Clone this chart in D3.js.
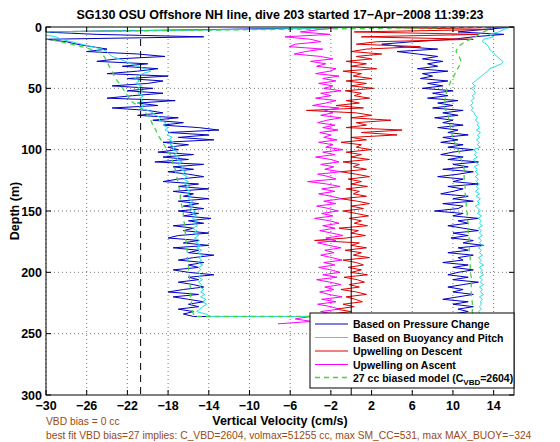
<!DOCTYPE html>
<html><head><meta charset="utf-8">
<script src="https://cdn.jsdelivr.net/npm/d3@7"></script>
<style>body{margin:0;background:#fff}svg{display:block}text{font-family:"Liberation Sans",Arial,Helvetica,sans-serif}</style>
</head><body><svg id="c" width="560" height="442"></svg>
<script>
// ---------- data ----------
const title = "SG130 OSU Offshore NH line, dive 203 started 17\u2212Apr\u22122008 11:39:23";
const xTicks = [-30,-26,-22,-18,-14,-10,-6,-2,2,6,10,14];
const yTicks = [0,50,100,150,200,250,300];
const depthGrid = [0,2,4,6,8,10,12,14,16,18,20,22,24,26,28,30,32,34,36,38,40,42,44,46,48,50,52,54,56,58,60,62,64,66,68,70,72,74,76,78,80,82,84,86,88,90,92,94,96,98,100,102,104,106,108,110,112,114,116,118,120,122,124,126,128,130,132,134,136,138,140,142,144,146,148,150,152,154,156,158,160,162,164,166,168,170,172,174,176,178,180,182,184,186,188,190,192,194,196,198,200,202,204,206,208,210,212,214,216,218,220,222,224,226,228,230,232,234,236];
const depthCoarse = [0,4,8,12,16,20,24,28,32,36,40,44,48,52,56,60,64,68,72,76,80,84,88,92,96,100,104,108,112,116,120,124,128,132,136,140,144,148,152,156,160,164,168,172,176,180,184,188,192,196,200,204,208,212,216,220,224,228,232,236];
const depthMagentaExtra = [238,240,242];

// Based on Pressure Change (descent / ascent), on depthGrid
const pressureDescent = [2,-13,-30.5,-25,-14.5,-30,-28,-27,-25.5,-24,-26,-21,-18.3,-23,-25,-20,-22.5,-19,-21,-24,-18,-22,-18.5,-20,-23.5,-19.5,-22,-18.5,-21.5,-24,-17.3,-21,-19,-23.5,-20,-18.5,-21,-17,-19.5,-16.5,-18.5,-15,-13,-18,-14,-17,-13.5,-18.5,-16,-18,-17,-19,-15.5,-18.5,-16,-19.3,-14.5,-17.5,-15.5,-18,-16,-14.5,-17,-18.5,-15,-17,-14,-17.5,-15.5,-16.5,-14,-17,-15,-16.5,-14.5,-17,-15,-16.5,-13.8,-16,-14.5,-17.5,-15.5,-16.5,-14,-17,-18,-15,-16.5,-14,-17.5,-15,-16,-13.5,-15.5,-17,-14.5,-16,-15,-17.5,-16,-13.5,-16,-15,-17,-15.5,-14.5,-16.5,-18,-15,-17.5,-16,-14.5,-16,-15,-17,-15.5,-16.5,-15.5];
const pressureAscent = [16,13,10.5,15,12,10,6,3,5,8.5,4.5,6.5,8.5,7,9,7.5,8.5,6.5,9.5,7,8,6.8,9.5,7.5,9,7,10,8,9.5,7.5,10.5,8.5,10,8,11,9,10.5,8.2,10,9,11,8.5,10.5,9.5,11.5,9,10.5,8.8,11,9.5,12,10,8.8,11,9.5,12.5,10,11.5,9,12,10.5,8.5,11,10,12.5,9.5,11,10,8.8,11.5,10,12,9,11,10.5,8.2,11,10,12.5,10.5,11.5,9.5,11,12.5,10,11.5,9.8,12,11,13,10.5,11.5,9.5,12,10.5,11,9,11.5,10,12,10.5,9.5,11.5,10,12.5,11,9.5,11,10,12,10.5,9,11.5,10,12,10.5,11.5,10,11];
// Based on Buoyancy and Pitch
const buoyDescent = [3,-10,-30.5,-30.5,-29,-28.5,-27.5,-26.5,-25.5,-24.5,-24,-23.8,-23.5,-22.8,-22.2,-21.6,-21,-20.3,-19.7,-20.5,-21,-21.3,-20.8,-21.2,-20.6,-21,-20.5,-21,-20.4,-20.8,-20.5,-21,-20.4,-20.7,-20,-19.5,-19.2,-18.7,-18.9,-18.2,-18.5,-18,-18.3,-17.8,-18.1,-17.6,-17.9,-17.4,-17.8,-17.3,-17.6,-17,-17.4,-16.9,-17.2,-16.6,-17,-16.5,-16.8,-16.3,-16.6,-16.1,-16.5,-16,-16.4,-15.9,-16.3,-15.8,-16.1,-15.7,-16,-15.6,-15.9,-15.5,-15.8,-15.3,-15.7,-15.2,-15.6,-15.1,-15.5,-15.1,-15.6,-15.2,-15.5,-15,-15.4,-14.9,-15.3,-14.8,-15.2,-14.7,-15.1,-14.6,-15,-14.7,-15.1,-14.6,-15,-14.8,-15.1,-14.7,-15,-14.6,-15,-14.7,-14.9,-14.5,-14.8,-14.4,-14.8,-14.3,-14.6,-14.2,-14.6,-14.9,-15.2,-14.3,-13.8];
const buoyAscent = [15.7,15,14.5,13.5,14,13,12.9,13.3,13.5,13.6,13.8,14.1,14.3,14.6,14.9,14.8,14.2,13.6,13.4,13.1,12.8,12.5,12.2,11.9,12.2,11.8,12.1,12.2,11.9,12.1,11.8,12,11.7,12,11.8,12.1,12.2,12.4,12.2,12.5,12.4,12.6,12.3,12.7,12.4,12.6,12.3,12.6,12.4,12.7,12.0,12.3,12.1,12.4,12.0,12.2,12.5,12.1,12.4,12.2,12.5,12.2,12.5,12.3,12.6,12.3,12.5,12.2,12.6,12.3,12.7,12.4,12.6,12.2,12.5,12.7,12.4,12.8,12.5,12.8,12.6,12.9,12.5,12.8,12.6,12.9,12.5,12.8,12.6,12.9,12.5,12.8,12.6,12.9,12.5,12.8,12.6,13.0,12.6,12.9,12.7,13.0,12.6,12.9,12.7,13.0,12.6,12.9,12.7,13.0,12.6,12.9,12.7,12.8,12.6,12.8,12.5,12.7,12.6];
// Upwelling on Descent (depthGrid)
const upDescent = [0.5,14,0.3,12.5,1,12,2.5,0.5,6.8,1.5,0,3,0.5,2,-0.5,1.5,0,2.5,-0.8,1,0.2,2,-0.5,1.5,0,2.2,-0.6,1,0.3,1.8,-0.5,0.8,-1.5,1.2,-4.4,0.5,2,0,3.9,0.5,1.5,-0.5,5,1,4.5,0,1.5,-1,1,0.5,2,-0.5,1,0,1.8,-0.8,0.8,0.2,1.5,-1,0.5,1.8,-0.3,1,0,1.6,-0.5,0.8,0.2,1.5,-1,0.6,1.8,0,1.2,-0.8,0.5,1.7,-0.2,1,0.3,1.6,-1.2,0.7,0,1.4,-0.5,-3.6,0.8,0,1.5,-0.6,1,0.2,1.8,-0.8,0.5,1.2,-0.3,1,0,1.6,-0.7,0.6,1.3,-0.2,0.8,-1,0.5,1.5,-0.5,0.4,1.1,-0.8,0.3,-1.5,0,-2,-1];
// Upwelling on Ascent (depthGrid + extra)
const upAscent = [-1,-3,-5,-2.1,-6.5,-4,-3,-5.5,-6.1,-2.8,-4.5,-5.6,-3,-1.8,-4,-2.5,-3.4,-1.5,-2.1,-3.5,-1.2,-2.8,-1.5,-3.2,-1.8,-2.7,-1,-3,-2,-3.5,-1.5,-2.5,-3.8,-1.2,-2.6,-1.8,-3,-1,-2.4,-3.3,-1.6,-2.8,-1.3,-3.1,-2,-2.7,-1.4,-3.2,-1.8,-2.5,-0.8,-2.8,-1.6,-3.5,-2,-1.2,-3,-1.7,-2.6,-1,-3.3,-2.2,-1.5,-4.3,-2.4,-1.1,-2.9,-1.6,-3.2,-2,-0.9,-2.7,-1.5,-3.4,-2.2,-1.3,-2.9,-1.8,-3.6,-2.1,-1.2,-2.8,-1.6,-3.1,-1.9,-0.8,-2.5,-1.5,-3.3,-2.2,-1,-2.6,-1.7,-3,-1.9,-0.9,-2.7,-1.6,-3.2,-2,-1.1,-2.8,-1.4,-3.4,-2.1,-1,-2.6,-1.7,-3.1,-2.2,-0.9,-2.9,-1.5,-3.3,-2,-1.2,-3,-1.8,-4,-5.5,-3.9,-7.2];
// 27 cc biased model (depthCoarse)
const modelDescent = [15.5,-31,-31,-28.6,-26.5,-24.8,-24.3,-24,-23.8,-23.5,-23.3,-23,-22.6,-22.3,-22,-21.7,-21,-20.4,-20,-19.7,-19.5,-19.2,-19,-18.7,-18.4,-18.1,-17.8,-17.6,-17.5,-17.3,-17.2,-17.1,-17,-16.9,-16.8,-16.8,-16.7,-16.6,-16.5,-16.5,-16.4,-16.4,-16.3,-16.3,-16.2,-16.2,-16.1,-16.1,-16,-16,-16,-15.9,-15.9,-15.8,-15.8,-15.8,-15.7,-15.7,-15.6,-15.4];
const modelAscent = [14,13,12.2,11.2,10.5,10.3,10.6,10.8,10.6,10.3,10.1,9.8,9.6,9.4,9.3,9.2,9.1,9.3,9.5,9.6,9.7,9.8,9.9,10,10.3,10.5,10.7,10.8,11,11.1,11.1,11.1,11.2,11.2,11.2,11.3,11.3,11.3,11.4,11.4,11.5,11.5,11.5,11.6,11.6,11.6,11.6,11.7,11.7,11.7,11.7,11.8,11.8,11.8,11.8,11.8,11.9,11.9,11.9,12.0];
const vbdDesired = -20.7;   // dashed reference line
const zeroLine = 0;
const legendLabels = ["Based on Pressure Change","Based on Buoyancy and Pitch","Upwelling on Descent","Upwelling on Ascent"];
const note1 = "VBD bias = 0 cc";
const note2 = "best fit VBD bias=27 implies: C_VBD=2604, volmax=51255 cc, max SM_CC=531, max MAX_BUOY=\u2212324";

// ---------- drawing ----------
const svg = d3.select("#c");
const L=46,R=514,T=27,B=395;
const x = d3.scaleLinear().domain([-30,16]).range([L,R]);
const y = d3.scaleLinear().domain([0,300]).range([T,B]);

svg.append("defs").append("clipPath").attr("id","pc").append("rect")
  .attr("x",L).attr("y",T).attr("width",R-L).attr("height",B-T);

// grid
const g = svg.append("g");
g.selectAll(".gx").data(xTicks).enter().append("line")
  .attr("x1",d=>x(d)).attr("x2",d=>x(d)).attr("y1",T).attr("y2",B)
  .attr("stroke","#555").attr("stroke-width",0.8).attr("stroke-dasharray","1,3");
g.selectAll(".gy").data(yTicks.slice(1,-1)).enter().append("line")
  .attr("y1",d=>y(d)).attr("y2",d=>y(d)).attr("x1",L).attr("x2",R)
  .attr("stroke","#555").attr("stroke-width",0.8).attr("stroke-dasharray","1,3");

const line = d3.line().x(p=>x(p[1])).y(p=>y(p[0]));
function path(dDepth, dVals, aDepth, aVals){
  const pts = dDepth.map((d,i)=>[d,dVals[i]]);
  if(aDepth){
    const asc = aDepth.map((d,i)=>[d,aVals[i]]).reverse();
    return pts.concat(asc);
  }
  return pts;
}
const plot = svg.append("g").attr("clip-path","url(#pc)");
const cBlue="#0000c4", cCyan="#22e0e0", cRed="#dd0000", cMag="#ff00ff", cGreen="#44d444";
plot.append("path").attr("d",line(path(depthGrid,pressureDescent,depthGrid,pressureAscent)))
  .attr("fill","none").attr("stroke",cBlue).attr("stroke-width",1);
plot.append("path").attr("d",line(path(depthGrid,buoyDescent,depthGrid,buoyAscent)))
  .attr("fill","none").attr("stroke",cCyan).attr("stroke-width",1);
plot.append("path").attr("d",line(path(depthGrid,upDescent)))
  .attr("fill","none").attr("stroke",cRed).attr("stroke-width",1);
plot.append("path").attr("d",line(path(depthGrid.concat(depthMagentaExtra),upAscent)))
  .attr("fill","none").attr("stroke",cMag).attr("stroke-width",1);
plot.append("path").attr("d",line(path(depthCoarse,modelDescent,depthCoarse,modelAscent)))
  .attr("fill","none").attr("stroke",cGreen).attr("stroke-width",1.3).attr("stroke-dasharray","5,4");

// reference lines
svg.append("line").attr("x1",x(zeroLine)).attr("x2",x(zeroLine)).attr("y1",T).attr("y2",B)
  .attr("stroke","#000").attr("stroke-width",1);
svg.append("line").attr("x1",x(vbdDesired)).attr("x2",x(vbdDesired)).attr("y1",T).attr("y2",B)
  .attr("stroke","#000").attr("stroke-width",1).attr("stroke-dasharray","7,5");

// axes box + ticks
svg.append("rect").attr("x",L).attr("y",T).attr("width",R-L).attr("height",B-T)
  .attr("fill","none").attr("stroke","#000").attr("stroke-width",1);
const ax = svg.append("g");
xTicks.forEach(t=>{
  ax.append("line").attr("x1",x(t)).attr("x2",x(t)).attr("y1",B).attr("y2",B-5).attr("stroke","#000");
  ax.append("line").attr("x1",x(t)).attr("x2",x(t)).attr("y1",T).attr("y2",T+5).attr("stroke","#000");
  ax.append("text").attr("x",x(t)).attr("y",B+15).attr("text-anchor","middle")
    .attr("font-size",12.5).attr("font-weight","bold").text(String(t).replace("-","\u2212"));
});
yTicks.forEach(t=>{
  ax.append("line").attr("x1",L).attr("x2",L+5).attr("y1",y(t)).attr("y2",y(t)).attr("stroke","#000");
  ax.append("line").attr("x1",R).attr("x2",R-5).attr("y1",y(t)).attr("y2",y(t)).attr("stroke","#000");
  ax.append("text").attr("x",L-4).attr("y",y(t)+4.5).attr("text-anchor","end")
    .attr("font-size",12.5).attr("font-weight","bold").text(t);
});

// labels
svg.append("text").attr("x",(L+R)/2).attr("y",19).attr("text-anchor","middle")
  .attr("font-size",12.5).attr("font-weight","bold").text(title);
svg.append("text").attr("x",(L+R)/2).attr("y",425).attr("text-anchor","middle")
  .attr("font-size",12.5).attr("font-weight","bold").text("Vertical Velocity (cm/s)");
svg.append("text").attr("transform",`translate(19,${(T+B)/2}) rotate(-90)`).attr("text-anchor","middle")
  .attr("font-size",12.5).attr("font-weight","bold").text("Depth (m)");
const brown = "#9a4a14";
svg.append("text").attr("x",L).attr("y",425).attr("font-size",10.3).attr("fill",brown).text(note1);
svg.append("text").attr("x",L).attr("y",439).attr("font-size",10.3).attr("fill",brown).text(note2);

// legend
const lg = svg.append("g");
lg.append("rect").attr("x",310).attr("y",313).attr("width",204).attr("height",75)
  .attr("fill","#fff").attr("stroke","#000").attr("stroke-width",1);
const legColors=[cBlue,cCyan,cRed,cMag,cGreen];
const rowY=[324,337.5,351,364.5,377.5];
legColors.forEach((c,i)=>{
  lg.append("line").attr("x1",315).attr("x2",348).attr("y1",rowY[i]).attr("y2",rowY[i])
    .attr("stroke",c).attr("stroke-width",i===4?1.5:1).attr("stroke-dasharray",i===4?"5,4":null);
});
legendLabels.forEach((t,i)=>{
  lg.append("text").attr("x",353).attr("y",rowY[i]+4).attr("font-size",10.5).attr("font-weight","bold").text(t);
});
const lt = lg.append("text").attr("x",353).attr("y",rowY[4]+4).attr("font-size",10.5).attr("font-weight","bold");
lt.append("tspan").text("27 cc biased model (C");
lt.append("tspan").attr("dy",3).attr("font-size",8).text("VBD");
lt.append("tspan").attr("dy",-3).text("=2604)");
</script></body></html>
